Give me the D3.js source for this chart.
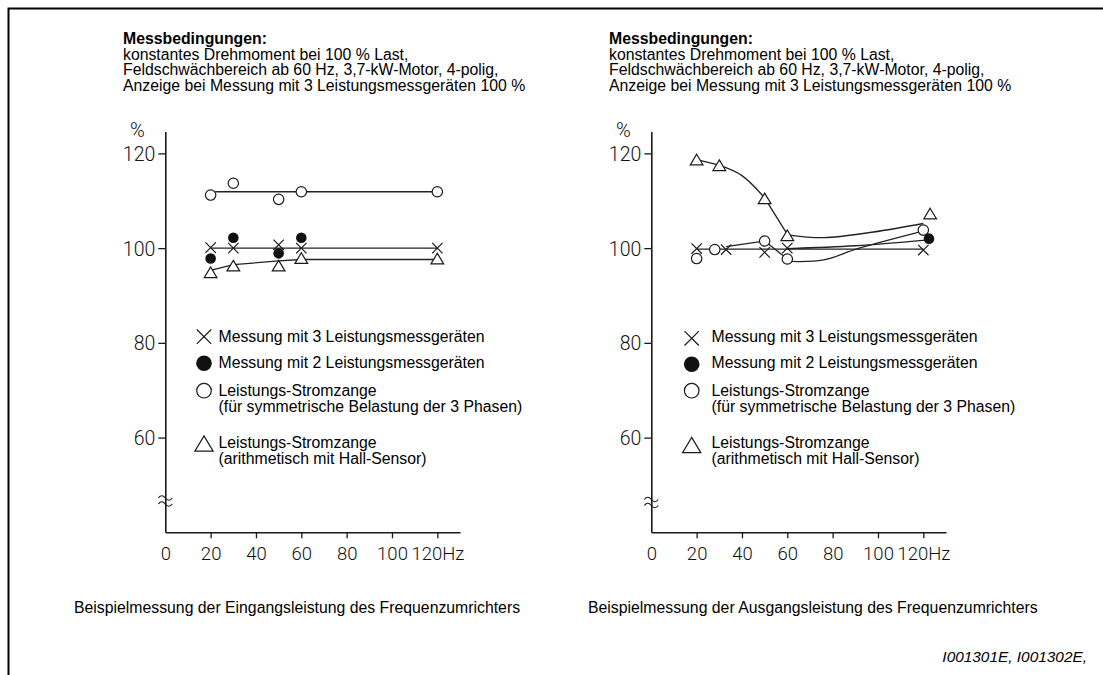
<!DOCTYPE html>
<html><head><meta charset="utf-8">
<script src="https://cdn.jsdelivr.net/npm/d3@7"></script>
<style>body{margin:0;background:#fff}svg{display:block}</style>
</head><body>
<svg id="c" width="1103" height="675"></svg>
<script>
// ---------- data ----------
const xTickValues = [0, 20, 40, 60, 80, 100, 120];
const xTickLabels = ["0", "20", "40", "60", "80", "100", "120Hz"];
const yTickValues = [60, 80, 100, 120];
const yTickLabels = ["60", "80", "100", "120"];
const yUnit = "%";
const headerLines = [
  "Messbedingungen:",
  "konstantes Drehmoment bei 100 % Last,",
  "Feldschwächbereich ab 60 Hz, 3,7-kW-Motor, 4-polig,",
  "Anzeige bei Messung mit 3 Leistungsmessgeräten 100 %"
];
const legendSymbols = ["cross", "dot", "circle", "triangle"];
const legendLabels = [
  ["Messung mit 3 Leistungsmessgeräten"],
  ["Messung mit 2 Leistungsmessgeräten"],
  ["Leistungs-Stromzange", "(für symmetrische Belastung der 3 Phasen)"],
  ["Leistungs-Stromzange", "(arithmetisch mit Hall-Sensor)"]
];
const captionIn = "Beispielmessung der Eingangsleistung des Frequenzumrichters";
const captionOut = "Beispielmessung der Ausgangsleistung des Frequenzumrichters";
const footerText = "I001301E, I001302E,";

// Input power (left) – [Hz, %]
const inCross    = [[20, 100.1], [30, 100], [50, 100.7], [60, 100], [120, 100]];
const inDot      = [[20, 97.8], [30, 102.2], [50, 98.9], [60, 102.2]];
const inCircle   = [[20, 111.2], [30, 113.7], [50, 110.3], [60, 111.9], [120, 111.9]];
const inTriangle = [[20, 94.9], [30, 96.3], [50, 96.3], [60, 97.9], [120, 97.8]];
const inCrossLine    = [[20, 100], [120, 100]];
const inCircleLine   = [[22, 111.9], [120, 111.9]];
const inTriangleLine = [[20, 95.3], [30, 96.5], [50, 97.3], [60, 97.6], [120, 97.6]];

// Output power (right) – [Hz, %]
const outCross    = [[20, 99.9], [33, 99.7], [50, 99.1], [60, 100], [120, 99.6]];
const outDot      = [[122.5, 102.0]];
const outCircle   = [[20, 97.8], [28, 99.7], [50, 101.5], [60, 97.7], [120, 103.8]];
const outTriangle = [[20, 118.7], [30, 117.5], [50, 110.5], [60, 102.7], [123, 107.3]];
const outCrossLine      = [[20, 99.8], [120, 99.8]];
const outCircleLineA    = [[33, 100.3], [50, 101.5], [60, 97.7]];
const outCircleLineB    = [[61, 97.2], [76, 97.5], [91, 99.9], [119, 103.5]];
const outDotLine        = [[60, 99.9], [90, 100.5], [121, 101.7]];
const outTriangleLineA  = [[20, 118.7], [30, 117.5]];
const outTriangleLineB  = [[30, 117.5], [40, 115.3], [50, 110.6]];
const outTriangleLineC  = [[50, 110.6], [60, 102.9]];
const outTriangleLineD  = [[60, 102.8], [76, 102.2], [98, 103.4], [120, 105.2]];

// ---------- drawing ----------
const svg = d3.select("#c");
const TXT = "'Liberation Sans', Arial, Helvetica, sans-serif";
const NUM = "Roboto, 'Liberation Sans', sans-serif";
const INK = "#1a1a1a";

// frame
svg.append("path").attr("d", "M8.5,675 L8.5,8.5 L1103,8.5")
  .attr("fill", "none").attr("stroke", "#000").attr("stroke-width", 2);

function symbolPath(type, s) {
  if (type === "cross") return `M${-s},${-s}L${s},${s}M${-s},${s}L${s},${-s}`;
  if (type === "triangle") { const w = s * 1.2, h = s; return `M0,${-h}L${w},${h}L${-w},${h}Z`; }
  return null;
}
function drawMarker(g, type, cx, cy, s) {
  if (type === "dot") {
    g.append("circle").attr("cx", cx).attr("cy", cy).attr("r", s).attr("fill", "#111");
  } else if (type === "circle") {
    g.append("circle").attr("cx", cx).attr("cy", cy).attr("r", s)
      .attr("fill", "#fff").attr("stroke", INK).attr("stroke-width", 1.2);
  } else {
    g.append("path").attr("d", symbolPath(type, s)).attr("transform", `translate(${cx},${cy})`)
      .attr("fill", type === "triangle" ? "#fff" : "none").attr("stroke", INK).attr("stroke-width", 1.2);
  }
}

function drawChart(cfg) {
  const ox = cfg.axisX;
  const x = d3.scaleLinear().domain([0, 130]).range([ox, ox + 294.7]);
  const y = d3.scaleLinear().domain([40, 124.6]).range([532.3, 131.6]);

  // header
  const h = svg.append("text").attr("font-family", TXT).attr("font-size", 15.8).attr("fill", "#000");
  headerLines.forEach((t, i) => {
    h.append("tspan").attr("x", cfg.headerX).attr("y", 44 + i * 15.6)
      .attr("font-weight", i === 0 ? "bold" : "normal").text(t);
  });

  // axes
  const ya = svg.append("g").attr("transform", `translate(${ox},0)`)
    .call(d3.axisLeft(y).tickValues(yTickValues).tickSize(7).tickSizeOuter(0).tickPadding(3)
      .tickFormat((d, i) => yTickLabels[i]));
  const xa = svg.append("g").attr("transform", `translate(0,${y(40)})`)
    .call(d3.axisBottom(x).tickValues(xTickValues).tickSize(6).tickSizeOuter(0).tickPadding(9)
      .tickFormat((d, i) => xTickLabels[i]));
  [ya, xa].forEach(a => {
    a.select(".domain").attr("stroke", INK).attr("stroke-width", 1.6);
    a.selectAll(".tick line").attr("stroke", INK).attr("stroke-width", 1.3);
    a.selectAll(".tick text").attr("font-family", NUM).attr("font-weight", 300)
      .attr("font-size", 19.5).attr("fill", "#111");
  });
  xa.selectAll(".tick text").attr("font-size", 18.5);
  xa.selectAll(".tick").filter(d => d === 0).select("line").remove();
  ya.selectAll(".tick text").attr("dy", "0.36em");

  // unit
  svg.append("text").attr("x", ox - 28).attr("y", 137).attr("text-anchor", "middle")
    .attr("font-family", NUM).attr("font-weight", 300).attr("font-size", 20).attr("fill", "#111").text(yUnit);

  // axis break (≈)
  [0, 6].forEach(dy => {
    const by = 498 + dy + cfg.breakShift;
    svg.append("path").attr("d", `M${ox - 7},${by}q3.5,-4.5 7,0t7,0`)
      .attr("fill", "none").attr("stroke", INK).attr("stroke-width", 1.2);
  });

  // lines
  const plot = svg.append("g");
  cfg.lines.forEach(l => {
    const gen = d3.line().x(d => x(d[0])).y(d => y(d[1]))
      .curve(l.smooth ? d3.curveCatmullRom.alpha(0.5) : d3.curveLinear);
    plot.append("path").datum(l.pts).attr("d", gen)
      .attr("fill", "none").attr("stroke", "#222").attr("stroke-width", 1.3);
  });
  // markers
  cfg.markers.forEach(m => {
    m.pts.forEach(p => drawMarker(plot, m.type, x(p[0]), y(p[1]), m.size));
  });

  // legend
  const lg = svg.append("g");
  const rowY = [336.7, 363.3, 390.7, 443.5];
  const textBase = [[341.5], [367.5], [395.5, 412], [447.5, 463.5]];
  const sizes = { cross: 7.2, dot: 7.8, circle: 7.3, triangle: 7.6 };
  legendSymbols.forEach((s, i) => {
    drawMarker(lg, s, cfg.legendMarkX, rowY[i] + (cfg.legendShift[i] || 0), sizes[s]);
    legendLabels[i].forEach((t, j) => {
      lg.append("text").attr("x", cfg.legendTextX).attr("y", textBase[i][j])
        .attr("font-family", TXT).attr("font-size", 15.8).attr("fill", "#000").text(t);
    });
  });

  // caption
  svg.append("text").attr("x", cfg.captionX).attr("y", 613)
    .attr("font-family", TXT).attr("font-size", 15.8).attr("fill", "#000").text(cfg.caption);
}

drawChart({
  axisX: 165.3, headerX: 123, captionX: 74, caption: captionIn, breakShift: 0,
  legendMarkX: 204, legendTextX: 218.5, legendShift: [0, 0, 0, 0],
  lines: [
    { pts: inCrossLine }, { pts: inCircleLine }, { pts: inTriangleLine }
  ],
  markers: [
    { type: "cross", pts: inCross, size: 5.2 },
    { type: "circle", pts: inCircle, size: 5.2 },
    { type: "triangle", pts: inTriangle, size: 5.3 },
    { type: "dot", pts: inDot, size: 5.3 }
  ]
});

drawChart({
  axisX: 651.3, headerX: 609, captionX: 588, caption: captionOut, breakShift: 1.5,
  legendMarkX: 691.7, legendTextX: 711.5, legendShift: [1.6, 1, 0, 1.5],
  lines: [
    { pts: outCrossLine },
    { pts: outCircleLineA },
    { pts: outCircleLineB, smooth: true },
    { pts: outDotLine, smooth: true },
    { pts: outTriangleLineA },
    { pts: outTriangleLineB, smooth: true },
    { pts: outTriangleLineC },
    { pts: outTriangleLineD, smooth: true }
  ],
  markers: [
    { type: "cross", pts: outCross, size: 5.2 },
    { type: "circle", pts: outCircle, size: 5.2 },
    { type: "triangle", pts: outTriangle, size: 5.3 },
    { type: "dot", pts: outDot, size: 5.3 }
  ]
});

// footer
svg.append("text").attr("x", 1087).attr("y", 662).attr("text-anchor", "end")
  .attr("font-family", TXT).attr("font-style", "italic").attr("font-size", 15.4).attr("fill", "#000")
  .text(footerText);
</script>
</body></html>
